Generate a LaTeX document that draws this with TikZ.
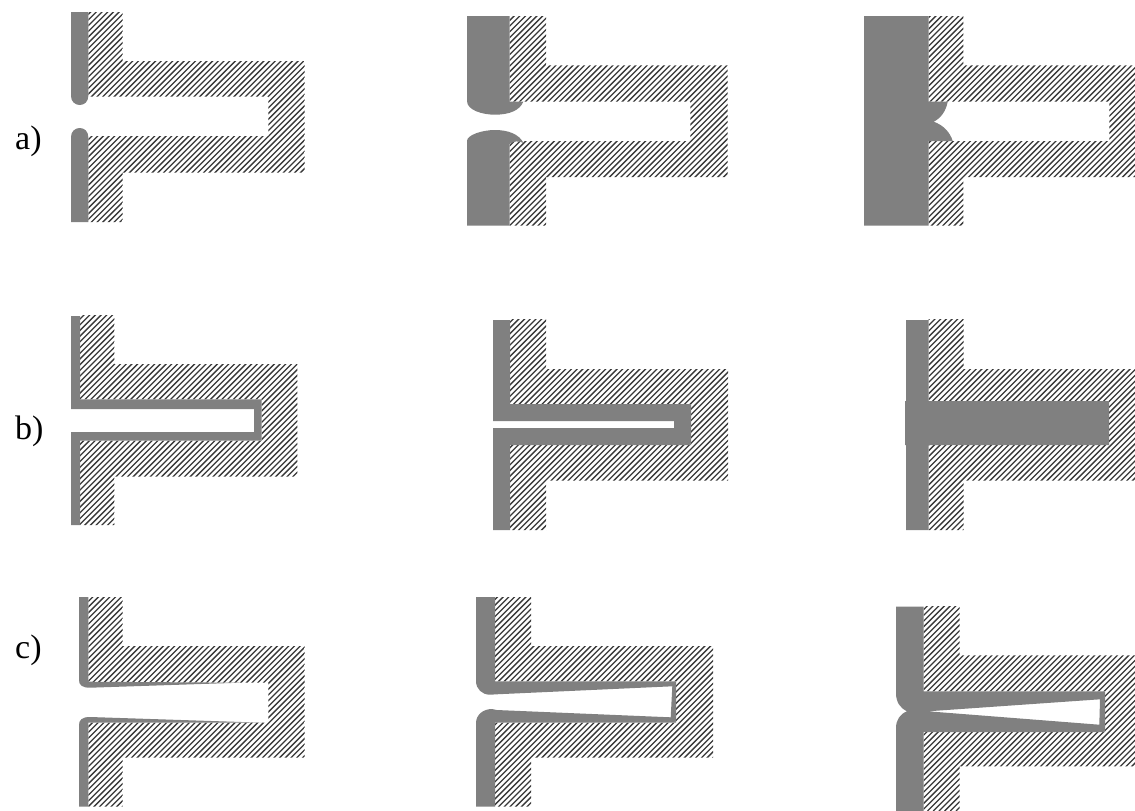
\documentclass[tikz,border=0pt]{standalone}
\usepackage{fontspec}
\setmainfont{Liberation Serif}
\definecolor{plate}{HTML}{808080}
\tikzset{
  hatchline/.style={draw=black!78,line width=1.3pt},
  platefill/.style={fill=plate,draw=none},
  rowlabel/.style={anchor=base west,inner sep=0pt,font=\fontsize{34}{38}\selectfont}
}
\begin{document}
\begin{tikzpicture}[x=1pt,y=-1pt]
\useasboundingbox (0,0) rectangle (1135,811);
% hatched T-shaped bodies
\foreach \xl/\xs/\xr/\xi/\yt/\yo/\yc/\yd/\yf/\yb in {
  88.3/122.7/304.7/268.3/12/61/96.7/136/172.7/222,
  509.7/546/727.7/690.3/16/65.3/101.7/141/177/225.7,
  928.7/963.3/1135/1109.3/16/65.3/101.7/141/177/225.7,
  80/114.3/297.3/261.7/315/364/399.3/440.7/476.7/525,
  510/546/728/691/319/369/404/445/480.7/530,
  928.7/963.7/1135/1109/319/369/401/445/480.7/530,
  88.3/122.7/304.7/268.3/597/646/682.7/722.7/757.7/806.7,
  495/531/713/676/597/646/681.3/722.7/757.7/806.7,
  923.7/959.7/1135/1105/606/655.3/691.3/732/766.3/811}{
  \begin{scope}
    \clip (\xl,\yt) -- (\xs,\yt) -- (\xs,\yo) -- (\xr,\yo) -- (\xr,\yf) -- (\xs,\yf) -- (\xs,\yb) -- (\xl,\yb) -- (\xl,\yd) -- (\xi,\yd) -- (\xi,\yc) -- (\xl,\yc) -- cycle;
    \foreach \c in {0,5.7,...,1950}{\draw[hatchline] (\c,0) -- ++(-811,811);}
  \end{scope}
}
% row a
\fill[platefill] (71,12) -- (88.3,12) -- (88.3,96) .. controls (88.3,101.5) and (84.5,105) .. (79.7,105) .. controls (75,105) and (71,101.5) .. (71,96) -- cycle;
\fill[platefill] (71,222) -- (88.3,222) -- (88.3,137) .. controls (88.3,131.5) and (84.5,128) .. (79.7,128) .. controls (75,128) and (71,131.5) .. (71,137) -- cycle;
\fill[platefill] (467,16) -- (509.7,16) -- (509.7,101.7) -- (523.3,101.7) .. controls (520,110) and (510,114.7) .. (495,114.7) .. controls (482,114.7) and (467,110) .. (467,101) -- cycle;
\fill[platefill] (467,225.7) -- (467,141) .. controls (467,135) and (482,130) .. (495,130) .. controls (508,130) and (519,134) .. (523.5,143) .. controls (518,140.5) and (514,141) .. (509.7,144) -- (509.7,225.7) -- cycle;
\fill[platefill] (864,16) -- (928.7,16) -- (928.7,101.7) -- (947.7,101.7) .. controls (946,111) and (941,118) .. (933.7,121.7) .. controls (943,125) and (950,132) .. (952.7,141) -- (928.7,141) -- (928.7,225.7) -- (864,225.7) -- cycle;
% row b
\fill[platefill] (71,316) -- (80,316) -- (80,399.3) -- (261.7,399.3) -- (261.7,440.7) -- (80,440.7) -- (80,525) -- (71,525) -- (71,432) -- (254,432) -- (254,409) -- (71,409) -- cycle;
\fill[platefill] (493,320) -- (510,320) -- (510,404) -- (691,404) -- (691,445) -- (510,445) -- (510,530) -- (493,530) -- (493,428) -- (674,428) -- (674,421) -- (493,421) -- cycle;
\fill[platefill] (906,320) -- (928.7,320) -- (928.7,401) -- (1109,401) -- (1109,445) -- (928.7,445) -- (928.7,530) -- (906,530) -- (906,445) -- (905,445) -- (905,401) -- (906,401) -- cycle;
% row c
\fill[platefill] (79,597) -- (88.3,597) -- (88.3,681.7) -- (240,682.7) -- (90,687.7) .. controls (82,687.7) and (79,685) .. (79,680) -- cycle;
\fill[platefill] (79,806.7) -- (88.3,806.7) -- (88.3,722.7) -- (263,722.7) -- (90,717) .. controls (82,717) and (79,720) .. (79,725) -- cycle;
\fill[platefill] (476,597) -- (495,597) -- (495,681.3) -- (676,681.3) -- (676,722.7) -- (495,722.7) -- (495,806.7) -- (476,806.7) -- (476,723) .. controls (476,715) and (483,709) .. (492,709) -- (496.7,710) -- (670.7,717.3) -- (672.3,686.3) -- (496.7,694.3) -- (490,694.7) .. controls (482,694.7) and (476,689) .. (476,681) -- cycle;
\fill[platefill] (896,606.7) -- (923.7,606.7) -- (923.7,691.3) -- (1105,691.3) -- (1105,732) -- (923.7,732) -- (923.7,811) -- (896,811) -- (896,728) .. controls (896,720) and (900,714) .. (907,711.3) -- (928,711.3) -- (1099.3,724.7) -- (1100,699.3) -- (928,711.3) -- (907,711.3) .. controls (900,708) and (896,702) .. (896,693) -- cycle;
% labels
\node[rowlabel] (la) at (15,149) {a)};
\node[rowlabel] (lb) at (15,439) {b)};
\node[rowlabel] (lc) at (15,658) {c)};
\end{tikzpicture}
\end{document}
